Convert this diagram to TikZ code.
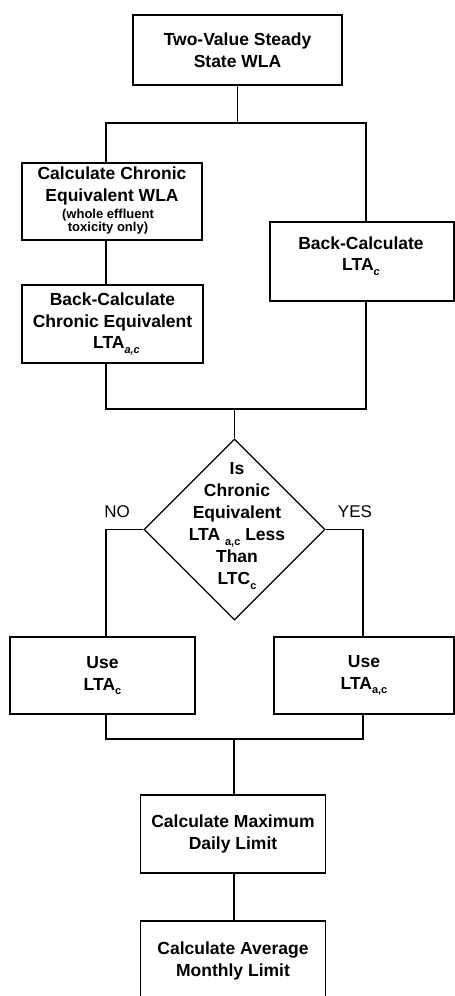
\documentclass[tikz,border=0pt]{standalone}
\usepackage{fontspec}
\setmainfont{Liberation Sans}
\usetikzlibrary{shapes.geometric}
\newcommand\subs[1]{\raisebox{-0.45ex}{\fontsize{11}{11}\selectfont #1}}
\begin{document}
\begin{tikzpicture}[x=1pt,y=-1pt,
  box/.style={draw, line width=1.3pt, inner sep=0pt, align=center,
    font=\bfseries\fontsize{17.5}{21.5}\selectfont},
  txt/.style={inner sep=0pt, align=center, font=\bfseries\fontsize{17.5}{21.5}\selectfont},
  ln/.style={line width=1.3pt},
  yn/.style={inner sep=0pt, font=\fontsize{17}{20}\selectfont}]
\useasboundingbox (0,0) rectangle (455,996);

% boxes
\node[box, minimum width=209pt, minimum height=70pt] (top) at (237.5,50) {Two-Value Steady\\State WLA};
\node[box, minimum width=180pt, minimum height=77pt] (b1) at (112,201.5) {};
\node[txt] (b1t) at (112,186) {Calculate Chronic\\Equivalent WLA};
\node[txt, font=\bfseries\fontsize{13}{11.5}\selectfont] (b1s) at (108,222) {(whole effluent\\toxicity only)};
\node[box, minimum width=181pt, minimum height=78pt] (b2) at (112.5,324) {Back-Calculate\\Chronic Equivalent\\\hspace*{8pt}LTA\subs{\textit{a,c}}};
\node[box, minimum width=184pt, minimum height=79pt] (rb) at (362,261.5) {};
\node[txt] (rbt) at (361,256) {Back-Calculate\\LTA\subs{\textit{c}}};

\node[draw, line width=1.3pt, diamond, minimum width=181pt, minimum height=181pt, inner sep=0pt] (dia) at (234.5,529.5) {};
\node[txt, font=\bfseries\fontsize{17.5}{22}\selectfont] (diat) at (237,526) {Is\\Chronic\\Equivalent\\LTA \subs{a,c} Less\\Than\\LTC\subs{c}};
\node[yn] (no) at (117,512) {NO};
\node[yn] (yes) at (355,512) {YES};

\node[box, minimum width=185pt, minimum height=77pt] (ul) at (102.5,675.5) {Use\\LTA\subs{c}};
\node[box, minimum width=180pt, minimum height=77pt] (ur) at (364,675.5) {Use\\LTA\subs{a,c}};
\node[box, minimum width=185pt, minimum height=78pt] (md) at (233,834) {Calculate Maximum\\Daily Limit};
\node[box, minimum width=185pt, minimum height=80pt] (am) at (233,961) {Calculate Average\\Monthly Limit};

% junction coordinates
\coordinate (cl) at (106,0);
\coordinate (cr) at (366,0);
\coordinate (cr2) at (363,0);
\coordinate (s1) at (237.5,123);
\coordinate (s2) at (234.5,409);
\coordinate (s3) at (234,739);

% connectors
\draw[ln] (top) -- (s1);
\draw[ln] (b1.north -| cl) |- (s1) -| (rb.north -| cr);
\draw[ln] (b1.south -| cl) -- (b2.north -| cl);
\draw[ln] (b2.south -| cl) |- (s2) -| (rb.south -| cr);
\draw[ln] (s2) -- (dia.north);
\draw[ln] (dia.west) -| (ul.north -| cl);
\draw[ln] (dia.east) -| (ur.north -| cr2);
\draw[ln] (ul.south -| cl) |- (s3) -| (ur.south -| cr2);
\draw[ln] (s3) -- (s3 |- md.north);
\draw[ln] (md.south -| s3) -- (am.north -| s3);
\end{tikzpicture}
\end{document}
